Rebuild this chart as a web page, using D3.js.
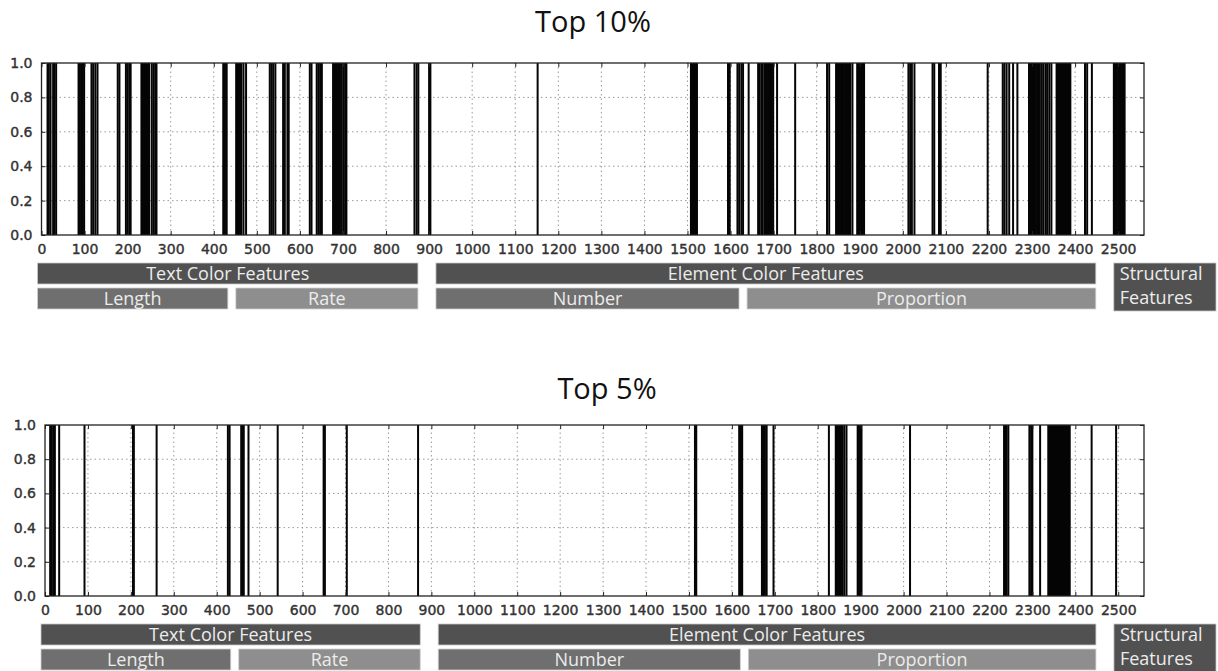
<!DOCTYPE html>
<html>
<head>
<meta charset="utf-8">
<script src="https://cdn.jsdelivr.net/npm/d3@7"></script>
<style>
  body { margin: 0; background: #fff; }
  svg { display: block; }
</style>
</head>
<body>
<div id="chart"></div>
<script>
// indices of the selected features
const top10Features = [
    14, 17, 21, 27, 30, 34,
    86, 89, 92, 96, 99,
    116, 120, 125, 130,
    177, 181,
    196, 200, 204, 207,
    232, 234, 236, 238, 240, 242, 244, 246, 248, 250, 256, 260, 264, 267,
    422, 426, 430,
    452, 455, 458, 461, 464, 469, 475,
    530, 534, 538, 543,
    561, 565, 571, 574,
    623, 627,
    639, 643, 647, 651,
    677, 680, 683, 686, 689, 693, 697, 701, 705, 708,
    866, 871, 875,
    900, 903,
    1152,
    1508, 1510, 1512, 1514, 1516, 1518, 1520, 1522,
    1594, 1598,
    1616, 1620, 1625, 1629, 1642,
    1664, 1668, 1673, 1678, 1681, 1684, 1687, 1690, 1693, 1696, 1699, 1708,
    1750,
    1824, 1829,
    1845, 1848, 1851, 1854, 1857, 1860, 1863, 1866, 1869, 1872, 1875, 1878, 1883,
    1894, 1896, 1898, 1900, 1902, 1904, 1906, 1908, 1910,
    2013, 2017, 2021, 2027,
    2069, 2073, 2084, 2088,
    2197,
    2232, 2236, 2241, 2247, 2256, 2266,
    2293, 2297, 2300, 2303, 2306, 2309, 2312, 2315, 2318, 2322, 2326, 2331, 2335, 2340, 2345,
    2357, 2359, 2361, 2363, 2365, 2367, 2369, 2371, 2373, 2375, 2377, 2379, 2381, 2383, 2385, 2387, 2389,
    2423, 2428, 2439,
    2490, 2492, 2494, 2497, 2500, 2503, 2506, 2509, 2512, 2515
];

const top5Features = [
    12, 16, 20, 23, 33,
    92,
    205, 207,
    260,
    426, 430,
    457, 460, 463, 474,
    542,
    649, 652,
    703,
    869,
    1514, 1517,
    1617, 1620, 1622, 1624,
    1670, 1673, 1677, 1681, 1697,
    1826,
    1842, 1844, 1846, 1848, 1850, 1852, 1854, 1856, 1858, 1862, 1867,
    1893, 1896, 1899, 1902,
    2015,
    2234, 2237, 2240, 2244,
    2293, 2297, 2300, 2318,
    2337, 2339, 2341, 2343, 2345, 2347, 2349, 2351, 2353, 2355, 2357, 2359,
    2361, 2363, 2365, 2367, 2369, 2371, 2373, 2375, 2377, 2379, 2381, 2383, 2385, 2387,
    2438,
    2495
];

const featureCount = 2560;
const xTicks = [0, 100, 200, 300, 400, 500, 600, 700, 800, 900, 1000, 1100, 1200,
    1300, 1400, 1500, 1600, 1700, 1800, 1900, 2000, 2100, 2200, 2300, 2400, 2500];
const yTicks = [0, 0.2, 0.4, 0.6, 0.8, 1.0];
const panelTitles = ['Top 10%', 'Top 5%'];

// feature groups, as index ranges
const groupNames = ['Text Color Features', 'Element Color Features', 'Structural Features'];
const groupRanges = [[0, 895], [895, 2469], [2469, 2560]];
const subgroupNames = ['Length', 'Rate', 'Number', 'Proportion'];
const subgroupRanges = [[0, 442], [442, 895], [895, 1629], [1629, 2469]];

const W = 1218, H = 671;

const config = {
    right           : 1144,
    titleFont       : '"Open Sans", sans-serif',
    tickFont        : '"DejaVu Sans", sans-serif',
    boxFont         : '"Open Sans", sans-serif',
    boxFontSize     : '18px',
    boxText         : '#ececec',
    lineWidth       : 2,
    groupGap        : 9,
    subGap          : 4,
    rowHeight       : 21,
    rowGap          : 4,
    groupFill       : '#515151',
    subFills        : ['#6f6f6f', '#8e8e8e', '#6f6f6f', '#8e8e8e']
};

const panels = [
    { title: panelTitles[0], features: top10Features, left: 41.5, top: 63, bottom: 235, titleX: 593, titleY: 32 },
    { title: panelTitles[1], features: top5Features,  left: 45,   top: 425, bottom: 596, titleX: 607, titleY: 399 }
];

const svg = d3.select('#chart').append('svg')
    .attr('width', W)
    .attr('height', H);

function drawPanel(p) {
    const x = d3.scaleLinear().domain([0, featureCount]).range([p.left, config.right]);
    const y = d3.scaleLinear().domain([0, 1]).range([p.bottom, p.top]);
    const g = svg.append('g');

    g.append('text')
        .attr('x', p.titleX)
        .attr('y', p.titleY)
        .attr('text-anchor', 'middle')
        .style('font-family', config.titleFont)
        .style('font-size', '29px')
        .style('fill', '#111')
        .text(p.title);

    // dotted grid
    g.append('g').selectAll('line')
        .data(xTicks.filter(function(d) { return d > 0; }))
        .enter().append('line')
        .attr('x1', function(d) { return x(d); })
        .attr('x2', function(d) { return x(d); })
        .attr('y1', y(0))
        .attr('y2', y(1))
        .attr('stroke', '#9a9a9a')
        .attr('stroke-width', 1)
        .attr('stroke-dasharray', '1.5,3');

    g.append('g').selectAll('line')
        .data(yTicks.filter(function(d) { return d > 0 && d < 1; }))
        .enter().append('line')
        .attr('x1', p.left)
        .attr('x2', config.right)
        .attr('y1', function(d) { return y(d); })
        .attr('y2', function(d) { return y(d); })
        .attr('stroke', '#9a9a9a')
        .attr('stroke-width', 1)
        .attr('stroke-dasharray', '1.5,3');

    // selected features
    g.append('g').selectAll('line')
        .data(p.features)
        .enter().append('line')
        .attr('x1', function(d) { return x(d); })
        .attr('x2', function(d) { return x(d); })
        .attr('y1', y(0))
        .attr('y2', y(1))
        .attr('stroke', '#050505')
        .attr('stroke-width', config.lineWidth);

    // axes: ticks inside, on all sides
    const xb = g.append('g').attr('transform', 'translate(0,' + y(0) + ')')
        .call(d3.axisBottom(x).tickValues(xTicks).tickSizeInner(-4).tickSizeOuter(0).tickPadding(9)
            .tickFormat(d3.format('d')));
    const xt = g.append('g').attr('transform', 'translate(0,' + y(1) + ')')
        .call(d3.axisTop(x).tickValues(xTicks).tickSizeInner(-4).tickSizeOuter(0).tickFormat(''));
    const yl = g.append('g').attr('transform', 'translate(' + p.left + ',0)')
        .call(d3.axisLeft(y).tickValues(yTicks).tickSizeInner(-4).tickSizeOuter(0).tickPadding(9)
            .tickFormat(d3.format('.1f')));
    const yr = g.append('g').attr('transform', 'translate(' + config.right + ',0)')
        .call(d3.axisRight(y).tickValues(yTicks).tickSizeInner(-4).tickSizeOuter(0).tickFormat(''));

    [xb, xt, yl, yr].forEach(function(a) {
        a.select('.domain').remove();
        a.selectAll('line').attr('stroke', '#222');
        a.selectAll('text')
            .style('font-family', config.tickFont)
            .style('font-size', '14px')
            .style('fill', '#333')
            .style('stroke', '#333')
            .style('stroke-width', '0.4px');
    });

    g.append('rect')
        .attr('x', p.left)
        .attr('y', p.top)
        .attr('width', config.right - p.left)
        .attr('height', p.bottom - p.top)
        .attr('fill', 'none')
        .attr('stroke', '#222')
        .attr('stroke-width', 1.3);

    drawGroups(g, x, p.bottom + 28);
}

function drawGroups(g, x, boxTop) {
    const groupEnds = groupRanges.map(function(r) { return r[1]; });

    groupRanges.forEach(function(r, i) {
        const x0 = r[0] === 0 ? x(0) - 4 : x(r[0]) + config.groupGap;
        const last = i === groupRanges.length - 1;
        const x1 = last ? W - 2 : x(r[1]) - config.groupGap;
        const h = last ? config.rowHeight * 2 + config.rowGap + 2 : config.rowHeight;
        g.append('rect')
            .attr('x', x0).attr('y', boxTop)
            .attr('width', x1 - x0).attr('height', h)
            .attr('fill', config.groupFill)
            .attr('stroke', '#c8c8c8').attr('stroke-width', 0.8);
        if (last) {
            groupNames[i].split(' ').forEach(function(word, k) {
                g.append('text')
                    .attr('x', x0 + 6)
                    .attr('y', boxTop + 17 + k * 24)
                    .style('font-family', config.boxFont)
                    .style('font-size', config.boxFontSize)
                    .style('fill', config.boxText)
                    .text(word);
            });
        } else {
            g.append('text')
                .attr('x', (x0 + x1) / 2)
                .attr('y', boxTop + 17)
                .attr('text-anchor', 'middle')
                .style('font-family', config.boxFont)
                .style('font-size', config.boxFontSize)
                .style('fill', config.boxText)
                .text(groupNames[i]);
        }
    });

    const rowTop = boxTop + config.rowHeight + config.rowGap;
    subgroupRanges.forEach(function(r, i) {
        let x0, x1;
        if (r[0] === 0) x0 = x(0) - 4;
        else if (groupEnds.indexOf(r[0]) >= 0) x0 = x(r[0]) + config.groupGap;
        else x0 = x(r[0]) + config.subGap;
        if (groupEnds.indexOf(r[1]) >= 0) x1 = x(r[1]) - config.groupGap;
        else x1 = x(r[1]) - config.subGap;
        g.append('rect')
            .attr('x', x0).attr('y', rowTop)
            .attr('width', x1 - x0).attr('height', config.rowHeight)
            .attr('fill', config.subFills[i])
            .attr('stroke', '#d0d0d0').attr('stroke-width', 0.8);
        g.append('text')
            .attr('x', (x0 + x1) / 2)
            .attr('y', rowTop + 17)
            .attr('text-anchor', 'middle')
            .style('font-family', config.boxFont)
            .style('font-size', config.boxFontSize)
            .style('fill', config.boxText)
            .text(subgroupNames[i]);
    });
}

panels.forEach(drawPanel);
</script>
</body>
</html>
